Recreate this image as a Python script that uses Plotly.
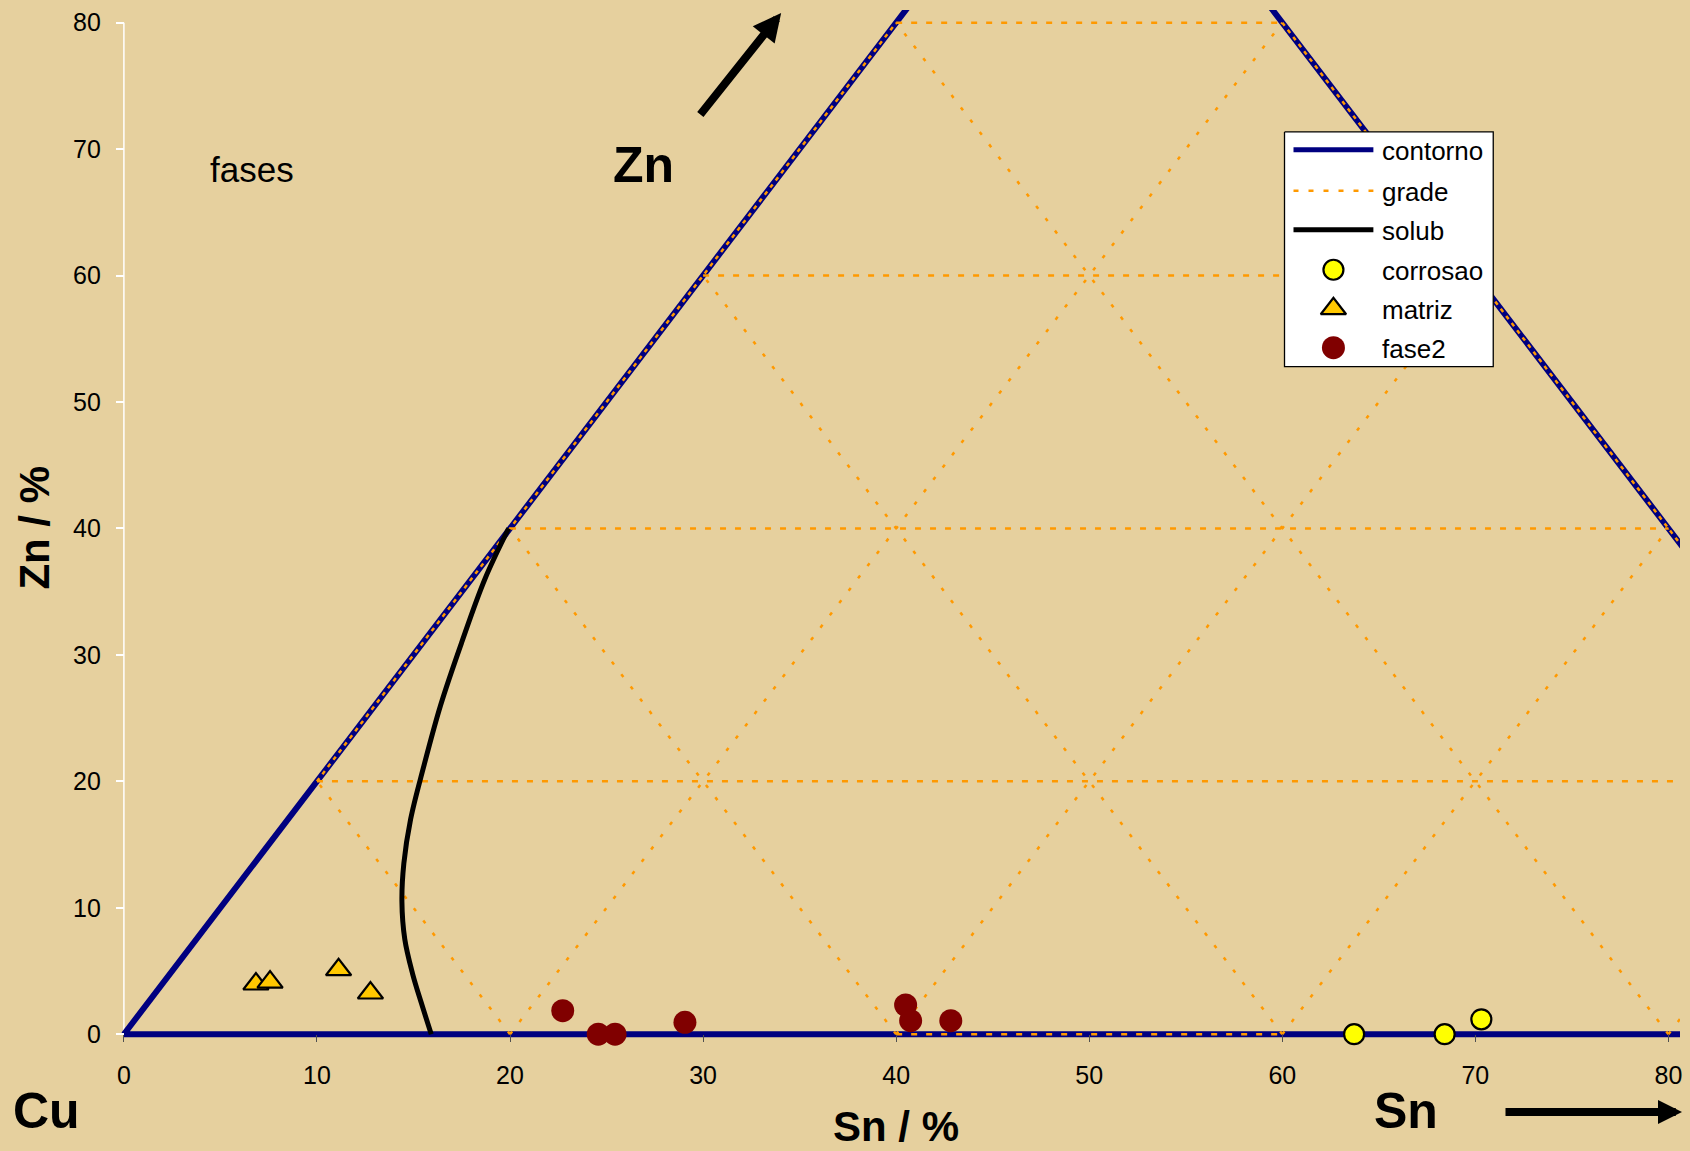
import plotly.graph_objects as go

# ---------------- data (plotted coordinates: x on the Sn axis, y on the Zn axis) ----------------
# outline of the Cu-Sn-Zn triangle
contorno_x = [0, 50, 100, 0]
contorno_y = [0, 100, 0, 0]

# grid: iso-Zn lines
grade_h_x = [10, 90, None, 20, 80, None, 30, 70, None, 40, 60]
grade_h_y = [20, 20, None, 40, 40, None, 60, 60, None, 80, 80]
# grid: iso-Cu and iso-Sn lines
grade_d_x = [20, 10, None, 40, 20, None, 60, 30, None, 80, 40, None,
             20, 60, None, 40, 70, None, 60, 80, None, 80, 90]
grade_d_y = [0, 20, None, 0, 40, None, 0, 60, None, 0, 80, None,
             0, 80, None, 0, 60, None, 0, 40, None, 0, 20]
# grid pieces lying on the outline
grade_e_x = [10, 40, None, 60, 90]
grade_e_y = [20, 80, None, 80, 20]
grade_b_x = [40, 60]
grade_b_y = [0, 0]

# solubility limit
solub_x = [19.93, 18.70, 17.50, 16.40, 15.50, 14.85, 14.50, 14.40, 14.55, 14.95, 15.40, 15.92]
solub_y = [40.0, 36.0, 31.0, 26.0, 21.0, 17.0, 13.5, 10.5, 7.5, 4.8, 2.5, 0.0]

# measured phases
corrosao_x = [63.72, 68.41, 70.31]
corrosao_y = [0.0, 0.0, 1.18]
matriz_x = [6.84, 7.57, 11.12, 12.77]
matriz_y = [3.97, 4.12, 5.10, 3.26]
fase2_x = [22.73, 24.57, 25.44, 29.06, 40.49, 40.75, 42.83]
fase2_y = [1.86, 0.0, 0.0, 0.94, 2.31, 1.07, 1.07]

x_ticks = [0, 10, 20, 30, 40, 50, 60, 70, 80]
y_ticks = [0, 10, 20, 30, 40, 50, 60, 70, 80]

legend_names = ["contorno", "grade", "solub", "corrosao", "matriz", "fase2"]

# ---------------- styling ----------------
NAVY = "#000080"
ORANGE = "#FF9900"
GOLD = "#FFC800"
YELLOW = "#FFFF00"
MAROON = "#800000"
BG = "#E6D09E"
FONT = "Arial, 'Liberation Sans', sans-serif"

W, H = 1690, 1151
L, R, T, B = 121, 8, 9, 113
X_RANGE = [-0.15, 80.6]
Y_RANGE = [-0.3, 81.0]


def px_x(px):
    """page pixel column -> paper fraction"""
    return (px - L) / (W - L - R)


def px_y(py):
    """page pixel row -> paper fraction"""
    return (H - B - py) / (H - T - B)


fig = go.Figure()

# main plot
fig.add_trace(go.Scatter(x=contorno_x, y=contorno_y, mode="lines",
                         line=dict(color=NAVY, width=6), hoverinfo="skip"))
fig.add_trace(go.Scatter(x=grade_e_x, y=grade_e_y, mode="lines",
                         line=dict(color=ORANGE, width=2.5, dash="4px,5px"), hoverinfo="skip"))
fig.add_trace(go.Scatter(x=grade_b_x, y=grade_b_y, mode="lines",
                         line=dict(color=ORANGE, width=2.5, dash="6px,9px"), hoverinfo="skip"))
fig.add_trace(go.Scatter(x=grade_h_x, y=grade_h_y, mode="lines",
                         line=dict(color=ORANGE, width=2.5, dash="6px,9px"), hoverinfo="skip"))
fig.add_trace(go.Scatter(x=grade_d_x, y=grade_d_y, mode="lines",
                         line=dict(color=ORANGE, width=2.5, dash="3.5px,12px"), hoverinfo="skip"))
fig.add_trace(go.Scatter(x=solub_x, y=solub_y, mode="lines", line_shape="spline",
                         line=dict(color="black", width=5, smoothing=1.0), hoverinfo="skip"))

corrosao_marker = dict(symbol="circle", size=20, color=YELLOW, line=dict(color="black", width=2.2))
matriz_marker = dict(symbol="triangle-up", size=22, color=GOLD, line=dict(color="black", width=2.2))
fase2_marker = dict(symbol="circle", size=23, color=MAROON, line=dict(color=MAROON, width=0))

fig.add_trace(go.Scatter(x=corrosao_x, y=corrosao_y, mode="markers", marker=corrosao_marker,
                         cliponaxis=False, name="corrosao"))
fig.add_trace(go.Scatter(x=matriz_x, y=matriz_y, mode="markers", marker=matriz_marker,
                         cliponaxis=False, name="matriz"))
fig.add_trace(go.Scatter(x=fase2_x, y=fase2_y, mode="markers", marker=fase2_marker,
                         cliponaxis=False, name="fase2"))

# legend panel, laid out on a pixel-space overlay (x2/y2)
LG_BOX = (1286, 1495, 131, 366)
LG_ROWS = [149, 190, 229, 269, 308, 347]
LG_LINE = (1295, 1375)
LG_MARK_X = 1335
LG_TEXT_X = 1382

bx0, bx1, by0, by1 = LG_BOX
fig.add_trace(go.Scatter(x=[bx0, bx1, bx1, bx0, bx0], y=[by0, by0, by1, by1, by0],
                         xaxis="x2", yaxis="y2", mode="lines", fill="toself",
                         fillcolor="white", line=dict(color="black", width=1.3),
                         hoverinfo="skip"))
line_styles = [dict(color=NAVY, width=5),
               dict(color=ORANGE, width=2.5, dash="5px,10px"),
               dict(color="black", width=5)]
for row_y, st in zip(LG_ROWS[:3], line_styles):
    fig.add_trace(go.Scatter(x=list(LG_LINE), y=[row_y, row_y], xaxis="x2", yaxis="y2",
                             mode="lines", line=st, hoverinfo="skip"))
for row_y, mk in zip(LG_ROWS[3:], [corrosao_marker, matriz_marker, fase2_marker]):
    fig.add_trace(go.Scatter(x=[LG_MARK_X], y=[row_y], xaxis="x2", yaxis="y2",
                             mode="markers", marker=mk, hoverinfo="skip"))

annotations = []
for row_y, name in zip(LG_ROWS, legend_names):
    annotations.append(dict(x=px_x(LG_TEXT_X), y=px_y(row_y + 1), xref="paper", yref="paper",
                            text=name, showarrow=False, xanchor="left", yanchor="middle",
                            font=dict(family=FONT, size=26, color="black")))


# labels and arrows (positions given in page pixels)
def label(x, y, text, size, angle=0):
    return dict(x=px_x(x), y=px_y(y), xref="paper", yref="paper", text=text,
                showarrow=False, xanchor="center", yanchor="middle", textangle=angle,
                font=dict(family=FONT, size=size, color="black"))


def arrow(x, y, ax, ay, size):
    return dict(x=px_x(x), y=px_y(y), xref="paper", yref="paper", ax=ax, ay=ay,
                text="", showarrow=True, arrowhead=2, arrowsize=size, arrowwidth=8,
                arrowcolor="black")


annotations += [
    label(252, 169, "fases", 35),
    label(644, 164, "<b>Zn</b>", 50),
    label(46, 1111, "<b>Cu</b>", 50),
    label(1408, 1111, "<b>Sn</b>", 50),
    label(897, 1127, "<b>Sn / %</b>", 42),
    label(34, 527, "<b>Zn / %</b>", 42, -90),
    arrow(782, 12, -82, 103, 0.7),
    arrow(1684, 1112, -178, 0, 0.6),
]

fig.update_layout(
    width=W, height=H,
    margin=dict(l=L, r=R, t=T, b=B),
    paper_bgcolor=BG, plot_bgcolor=BG,
    showlegend=False,
    font=dict(family=FONT, size=25, color="black"),
    annotations=annotations,
    shapes=[dict(type="line", xref="x", yref="y", x0=0, x1=0, y0=0, y1=80,
                 line=dict(color="white", width=1.5), layer="below")],
    xaxis=dict(range=X_RANGE, anchor="free",
               position=(0 - Y_RANGE[0]) / (Y_RANGE[1] - Y_RANGE[0]),
               tickvals=x_ticks, ticks="outside", ticklen=7, tickwidth=1, tickcolor="#505050",
               ticklabelstandoff=12, showgrid=False, zeroline=False, showline=False,
               tickfont=dict(family=FONT, size=25, color="black"), fixedrange=True),
    yaxis=dict(range=Y_RANGE, anchor="free",
               position=(0 - X_RANGE[0]) / (X_RANGE[1] - X_RANGE[0]),
               tickvals=y_ticks, ticks="outside", ticklen=8, tickwidth=1.5, tickcolor="white",
               ticklabelstandoff=10, showgrid=False, zeroline=False, showline=False,
               tickfont=dict(family=FONT, size=25, color="black"), fixedrange=True),
    xaxis2=dict(range=[L, W - R], overlaying="x", anchor="y2", visible=False, fixedrange=True),
    yaxis2=dict(range=[H - B, T], overlaying="y", anchor="x2", visible=False, fixedrange=True),
)

fig.write_html("out.html")
